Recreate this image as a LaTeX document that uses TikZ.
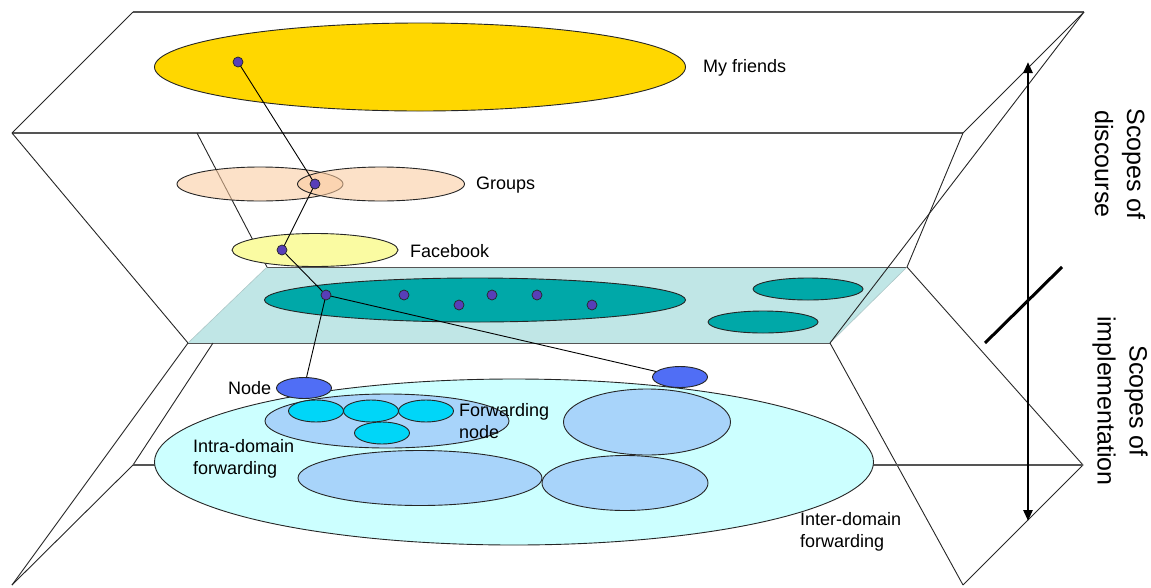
\documentclass[tikz,border=0pt]{standalone}
\usepackage{fontspec}
\setmainfont{Liberation Sans}
\usetikzlibrary{shapes.geometric,arrows.meta}

\definecolor{friendsyellow}{RGB}{255,215,0}
\definecolor{grouppeach}{RGB}{250,202,159}
\definecolor{fbyellow}{RGB}{250,251,162}
\definecolor{tealplane}{RGB}{192,230,230}
\definecolor{tealdark}{RGB}{0,168,168}
\definecolor{dotviolet}{RGB}{88,62,184}
\definecolor{nodeblue}{RGB}{80,110,245}
\definecolor{domaincyan}{RGB}{204,255,255}
\definecolor{domainblue}{RGB}{168,212,250}
\definecolor{fwdcyan}{RGB}{0,214,248}
\definecolor{edgegray}{RGB}{85,85,85}

\pgfdeclarelayer{front}
\pgfsetlayers{main,front}

\begin{document}
\begin{tikzpicture}[x=1pt,y=-1pt,
  planeedge/.style={draw=edgegray,line width=1.3pt},
  slant/.style={draw=black!85,line width=0.9pt},
  ell/.style={ellipse,draw=black!85,line width=0.9pt,inner sep=0pt},
  dot/.style={circle,draw=black!85,line width=0.7pt,fill=dotviolet,minimum size=10pt,inner sep=0pt},
  link/.style={draw=black,line width=0.9pt},
  lbl/.style={inner sep=0pt,anchor=west,font=\fontsize{18}{22.5}\selectfont,align=left},
  scopelbl/.style={inner sep=0pt,rotate=-90,font=\fontsize{25}{32}\selectfont,align=center}]

\useasboundingbox (0,0) rectangle (1151,587);

% corners of the stacked planes
\coordinate (tA) at (133,12);
\coordinate (tB) at (1084,12);
\coordinate (tC) at (963,133);
\coordinate (tD) at (12,133);
\coordinate (tE) at (197,133);
\coordinate (mA) at (267,267);
\coordinate (mB) at (907,267);
\coordinate (mC) at (830,343);
\coordinate (mD) at (188,343);
\coordinate (mE) at (213,343);
\coordinate (bA) at (133,465);
\coordinate (bB) at (1083,465);
\coordinate (bC) at (963,585);
\coordinate (bD) at (12,585);

% upper plane and funnel towards the middle plane
\draw[planeedge] (tA) -- (tB);
\draw[planeedge] (tD) -- (tC);
\draw[slant] (tA) -- (tD);
\draw[slant] (tB) -- (tC) -- (mB);
\draw[slant] (tD) -- (mD);
\draw[slant] (tE) -- (mA);

% discourse layers
\node[ell,fill=friendsyellow,minimum width=531pt,minimum height=88pt] (friends) at (420,67) {};
\node[ell,fill=grouppeach,fill opacity=0.57,minimum width=166pt,minimum height=34pt] (groupL) at (260,184) {};
\node[ell,fill=grouppeach,fill opacity=0.57,minimum width=167pt,minimum height=34pt] (groupR) at (381,184) {};
\node[ell,fill=fbyellow,minimum width=166pt,minimum height=33pt] (facebook) at (315,250) {};

% middle plane (overlay)
\fill[tealplane] (mA) -- (mB) -- (mC) -- (mD) -- cycle;
\draw[draw=edgegray,line width=1pt] (mA) -- (mB);
\draw[draw=edgegray,line width=1pt] (mD) -- (mC);
\draw[draw=tealplane!70!gray,line width=0.6pt] (mA) -- (mD);
\draw[draw=tealplane!70!gray,line width=0.6pt] (mB) -- (mC);
\node[ell,fill=tealdark,minimum width=421pt,minimum height=44pt] (overlay) at (475,300) {};
\node[ell,fill=tealdark,minimum width=110pt,minimum height=22pt] (overlayA) at (808,289) {};
\node[ell,fill=tealdark,minimum width=110pt,minimum height=22pt] (overlayB) at (763,322) {};
\draw[slant] (tB) -- (mC);

% lower plane and funnel from the middle plane
\draw[slant] (mD) -- (bD);
\draw[slant] (mE) -- (bA) -- (bD);
\draw[slant] (mC) -- (bC);
\draw[slant] (mB) -- (bB) -- (bC);
\draw[planeedge] (bA) -- (bB);

% implementation layers
\node[ell,fill=domaincyan,minimum width=719pt,minimum height=166pt] (inter) at (514,462) {};
\node[ell,fill=domainblue,minimum width=244pt,minimum height=54pt] (domainA) at (387,421) {};
\node[ell,fill=domainblue,minimum width=167pt,minimum height=66pt] (domainB) at (647,422) {};
\node[ell,fill=domainblue,minimum width=244pt,minimum height=55pt] (domainC) at (420,478) {};
\node[ell,fill=domainblue,minimum width=166pt,minimum height=55pt] (domainD) at (625,483) {};
\node[ell,fill=fwdcyan,minimum width=55pt,minimum height=22pt] (fwd1) at (316,411) {};
\node[ell,fill=fwdcyan,minimum width=55pt,minimum height=22pt] (fwd2) at (371,411) {};
\node[ell,fill=fwdcyan,minimum width=55pt,minimum height=22pt] (fwd3) at (426,411) {};
\node[ell,fill=fwdcyan,minimum width=55pt,minimum height=22pt] (fwd4) at (382,433) {};
\node[ell,fill=nodeblue,minimum width=55pt,minimum height=21pt] (hostL) at (304,388) {};
\node[ell,fill=nodeblue,minimum width=55pt,minimum height=21pt] (hostR) at (680,377) {};

% mapping path through the layers: dots sit above the links
\begin{pgfonlayer}{front}
\node[dot] (d1) at (238,62) {};
\node[dot] (d2) at (315,184) {};
\node[dot] (d3) at (282,250) {};
\node[dot] (d4) at (326,295) {};
\node[dot] (d5) at (404,295) {};
\node[dot] (d6) at (459,305) {};
\node[dot] (d7) at (492,295) {};
\node[dot] (d8) at (537,295) {};
\node[dot] (d9) at (592,305) {};
\end{pgfonlayer}
\draw[link] (d1.center) -- (d2.center) -- (d3.center) -- (d4.center);
\draw[link] (d4.center) -- (hostL);
\draw[link] (d4.center) -- (hostR);

% labels
\node[lbl] (tFriends) at (703,67.5) {My friends};
\node[lbl] (tGroups) at (476,185.5) {Groups};
\node[lbl] (tFacebook) at (410,251) {Facebook};
\node[lbl] (tNode) at (228,388) {Node};
\node[lbl] (tFwd) at (459,421) {Forwarding\\node};
\node[lbl] (tIntra) at (193,459) {Intra-domain\\forwarding};
\node[lbl] (tInter) at (800,532) {Inter-domain\\forwarding};

% scope axis
\coordinate (axTop) at (1028,62);
\coordinate (axBot) at (1028,521);
\coordinate (cutA) at (1062,267);
\coordinate (cutB) at (985,343);
\draw[line width=2.6pt,{Triangle[width=9pt,length=11pt]}-{Triangle[width=9pt,length=11pt]}] (axTop) -- (axBot);
\draw[line width=3pt] (cutA) -- (cutB);
\node[scopelbl] (tDiscourse) at (1120,164) {Scopes of\\discourse};
\node[scopelbl] (tImpl) at (1120,401) {Scopes of\\implementation};
\end{tikzpicture}
\end{document}
